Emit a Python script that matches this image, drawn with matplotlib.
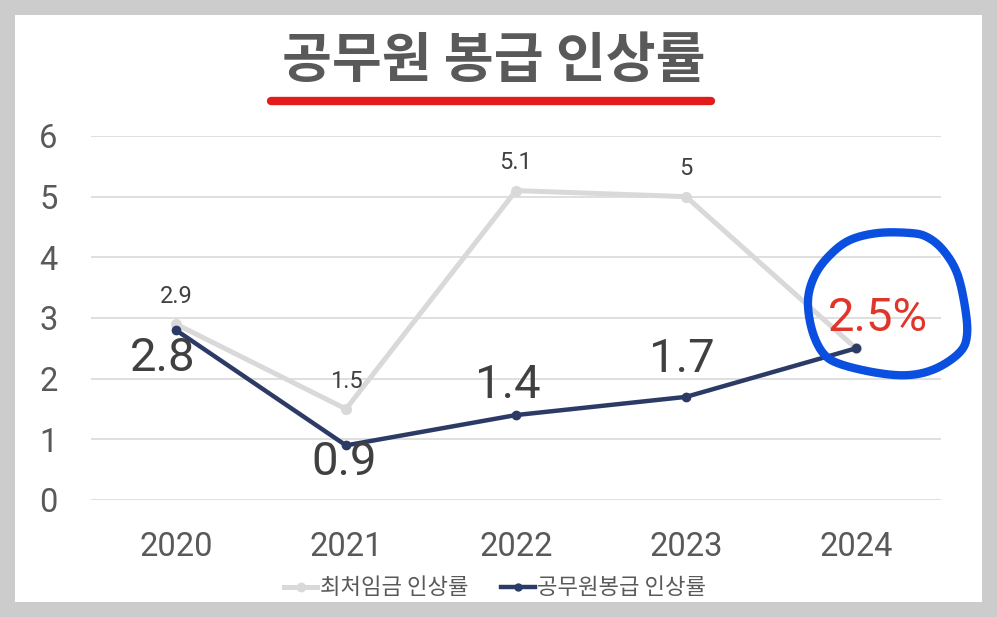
import numpy as np
import matplotlib.pyplot as plt
from matplotlib.lines import Line2D
from matplotlib.patches import Rectangle

plt.rcParams['font.family'] = ['Roboto', 'Noto Sans CJK KR', 'DejaVu Sans']

# 데이터
years = ['2020', '2021', '2022', '2023', '2024']
min_wage = [2.9, 1.5, 5.1, 5.0, 2.5]      # 최처임금 인상률
civil_pay = [2.8, 0.9, 1.4, 1.7, 2.5]     # 공무원봉급 인상률
yticks = [0, 1, 2, 3, 4, 5, 6]

# 라벨 위치 (px 오프셋)
min_offsets = [(0, 28), (0, 28), (0, 28), (0, 28), None]
civil_offsets = [(-13, -28), (-2, -17), (-8, 30), (-4, 38), (22, 30)]

W, H = 997, 617
fig = plt.figure(figsize=(W / 100, H / 100), dpi=100)
fig.patch.set_facecolor('#cccccc')
fig.add_artist(Rectangle((15 / W, 1 - 602 / H), 967 / W, 587 / H,
                         transform=fig.transFigure, facecolor='white',
                         edgecolor='none', zorder=0))

ax = fig.add_axes([91 / W, 1 - 500 / H, 850 / W, 364 / H])
ax.set_facecolor('none')
x = np.arange(len(years))

ax.plot(x, min_wage, color='#d9d9d9', lw=3.6, marker='o', ms=7,
        solid_capstyle='round', clip_on=False, zorder=3)
ax.plot(x, civil_pay, color='#2c3a66', lw=3.2, marker='o', ms=6,
        solid_capstyle='round', clip_on=False, zorder=4)

px = 0.72
for i, v in enumerate(min_wage):
    if min_offsets[i] is None:
        continue
    dx, dy = min_offsets[i]
    lab = f'{v:g}'
    ax.annotate(lab, (x[i], v), xytext=(dx * px, dy * px), textcoords='offset points',
                ha='center', va='center', fontsize=17, color='#404040')

for i, v in enumerate(civil_pay):
    dx, dy = civil_offsets[i]
    if i == len(civil_pay) - 1:
        ax.annotate(f'{v:g}%', (x[i], v), xytext=(dx * px, dy * px), textcoords='offset points',
                    ha='center', va='center', fontsize=34, color='#e0352b', zorder=6)
    else:
        ax.annotate(f'{v:g}', (x[i], v), xytext=(dx * px, dy * px), textcoords='offset points',
                    ha='center', va='center', fontsize=34, color='#404040', zorder=6)

ax.set_xlim(-0.5, len(years) - 0.5)
ax.set_ylim(0, 6)
ax.set_yticks(yticks)
ax.set_xticks(x)
ax.set_xticklabels(years)
ax.grid(axis='y', color='#d9d9d9', lw=1.2)
ax.set_axisbelow(True)
for s in ax.spines.values():
    s.set_visible(False)
ax.tick_params(axis='both', length=0, labelsize=23.5, colors='#595959')
ax.tick_params(axis='x', pad=22)
ax.tick_params(axis='y', pad=24)

# 제목 + 빨간 밑줄
fig.text(494 / W, 1 - 62 / H, '공무원 봉급 인상률', ha='center', va='center',
         fontsize=39, fontweight='bold', color='#595959', family='Noto Sans CJK KR')
fig.add_artist(Line2D([271 / W, 711 / W], [1 - 101 / H, 1 - 101 / H],
                      transform=fig.transFigure, color='#e31b1b', lw=6,
                      solid_capstyle='round'))

# 파란 동그라미 (손그림)
loop = np.array([
    (910, 233), (927, 237), (943, 250), (957, 273), (965, 307), (967, 335),
    (960, 352), (937, 368), (910, 375), (878, 373), (840, 364), (823, 353),
    (812, 330), (808, 300), (815, 275), (830, 255), (850, 240), (878, 233),
], dtype=float)
n = len(loop)
pts = []
for k in range(n):
    p0, p1, p2, p3 = loop[k - 1], loop[k], loop[(k + 1) % n], loop[(k + 2) % n]
    for t in np.linspace(0, 1, 12, endpoint=False):
        t2, t3 = t * t, t * t * t
        pts.append(0.5 * (2 * p1 + (-p0 + p2) * t + (2 * p0 - 5 * p1 + 4 * p2 - p3) * t2
                          + (-p0 + 3 * p1 - 3 * p2 + p3) * t3))
pts.append(pts[0])
pts = np.array(pts)
fig.add_artist(Line2D(pts[:, 0] / W, 1 - pts[:, 1] / H, transform=fig.transFigure,
                      color='#0a4fe0', lw=6, solid_capstyle='round',
                      solid_joinstyle='round', zorder=10))

# 범례
handles = [
    Line2D([], [], color='#d9d9d9', lw=3.6, marker='o', ms=6),
    Line2D([], [], color='#2c3a66', lw=3.2, marker='o', ms=5),
]
fig.legend(handles, ['최처임금 인상률', '공무원봉급 인상률'], loc='center',
           bbox_to_anchor=(495 / W, 1 - 588 / H), ncol=2, frameon=False,
           labelcolor='#595959', handlelength=1.5,
           handletextpad=0.1, columnspacing=1.5,
           prop={'family': ['Noto Sans CJK KR'], 'size': 16})

fig.savefig('out.png', dpi=100, facecolor=fig.get_facecolor())
